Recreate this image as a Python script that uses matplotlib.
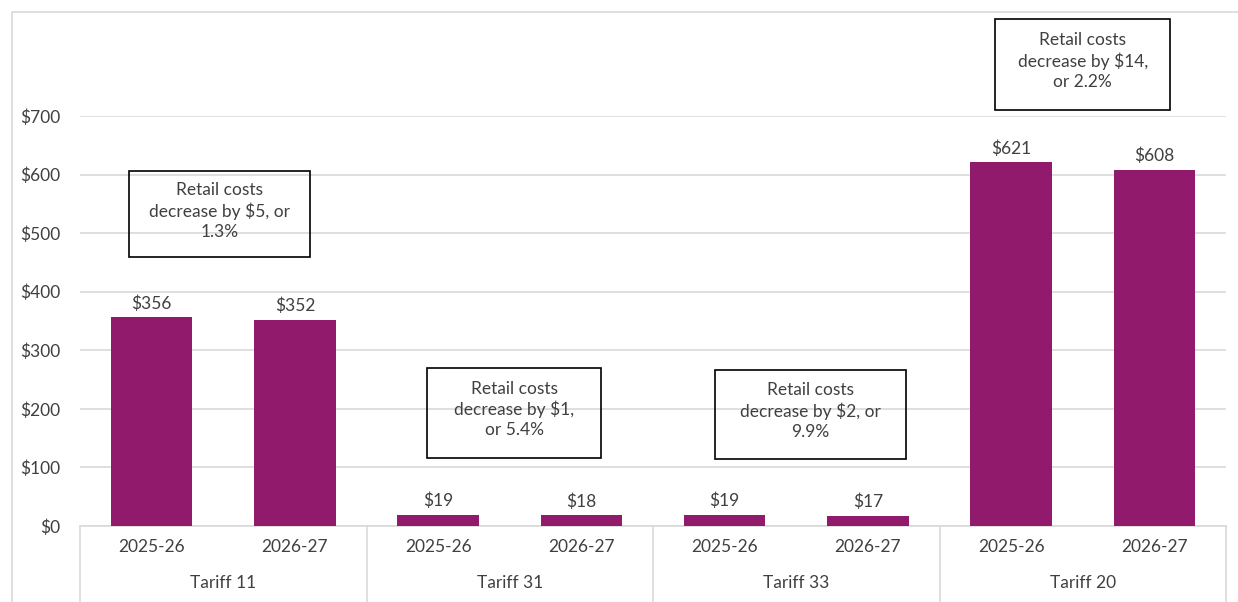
import numpy as np
import matplotlib.pyplot as plt
from matplotlib.patches import Rectangle

tariffs = ["Tariff 11", "Tariff 31", "Tariff 33", "Tariff 20"]
years = ["2025-26", "2026-27"]
costs = [356, 352, 19, 18, 19, 17, 621, 608]
notes = ["Retail costs\ndecrease by $5, or\n1.3%",
         "Retail costs\ndecrease by $1,\nor 5.4%",
         "Retail costs\ndecrease by $2, or\n9.9%",
         "Retail costs\ndecrease by $14,\nor 2.2%"]

plt.rcParams['font.family'] = ['Lato', 'DejaVu Sans']
txt = "#404040"
bar_col = "#911A6C"
grid_col = "#D9D9D9"
fs = 12.5

W, H = 1238, 602
fig = plt.figure(figsize=(W / 100, H / 100), dpi=100)
# outer chart border
fig.patches.append(Rectangle((12 / W, -0.1), 1.2, (H - 12) / H + 0.1, transform=fig.transFigure,
                             fill=False, edgecolor=grid_col, lw=1.2))
ax = fig.add_axes([80 / W, (H - 526) / H, (1226 - 80) / W, (526 - 116) / H])

x = np.arange(len(costs))
ax.bar(x, costs, width=0.57, color=bar_col, zorder=3)
for xi, v in zip(x, costs):
    ax.annotate(f"${v}", (xi, v), xytext=(0, 4), textcoords="offset points",
                ha="center", va="bottom", fontsize=fs, color=txt)

ax.set_xlim(-0.5, len(costs) - 0.5)
ax.set_ylim(0, 700)
ax.set_yticks(range(0, 701, 100))
ax.set_yticklabels([f"${t}" for t in range(0, 701, 100)])
ax.yaxis.grid(True, color=grid_col, lw=1.2, zorder=0)
ax.set_axisbelow(True)
for s in ["top", "right", "left"]:
    ax.spines[s].set_visible(False)
ax.spines["bottom"].set_color(grid_col)
ax.spines["bottom"].set_linewidth(1.2)
ax.tick_params(axis="y", length=0, pad=14, labelsize=fs, labelcolor=txt)
ax.tick_params(axis="x", length=0, pad=9, labelsize=fs, labelcolor=txt)
ax.set_xticks(x)
ax.set_xticklabels(years * len(tariffs))

# group labels and separators
trans = ax.get_xaxis_transform()
for i, t in enumerate(tariffs):
    ax.text(2 * i + 0.5, -0.14, t, transform=trans, ha="center", va="center",
            fontsize=fs, color=txt)
for b in range(len(tariffs) + 1):
    ax.plot([2 * b - 0.5, 2 * b - 0.5], [0, -0.2], transform=trans, color=grid_col,
            lw=1.2, clip_on=False)

# annotation boxes (centre x, centre y, width, height in data units)
boxes = [(0.474, 532, 1.26, 147), (2.53, 193, 1.22, 154),
         (4.6, 190, 1.33, 152), (6.5, 788, 1.22, 155)]
for (cx, cy, bw, bh), note in zip(boxes, notes):
    ax.add_patch(Rectangle((cx - bw / 2, cy - bh / 2), bw, bh, fill=False,
                           edgecolor="black", lw=1.2, clip_on=False, zorder=4))
    ax.text(cx, cy + 6, note, ha="center", va="center", fontsize=fs, color=txt,
            linespacing=1.3, clip_on=False, zorder=5)

fig.savefig("out.png", dpi=100)
